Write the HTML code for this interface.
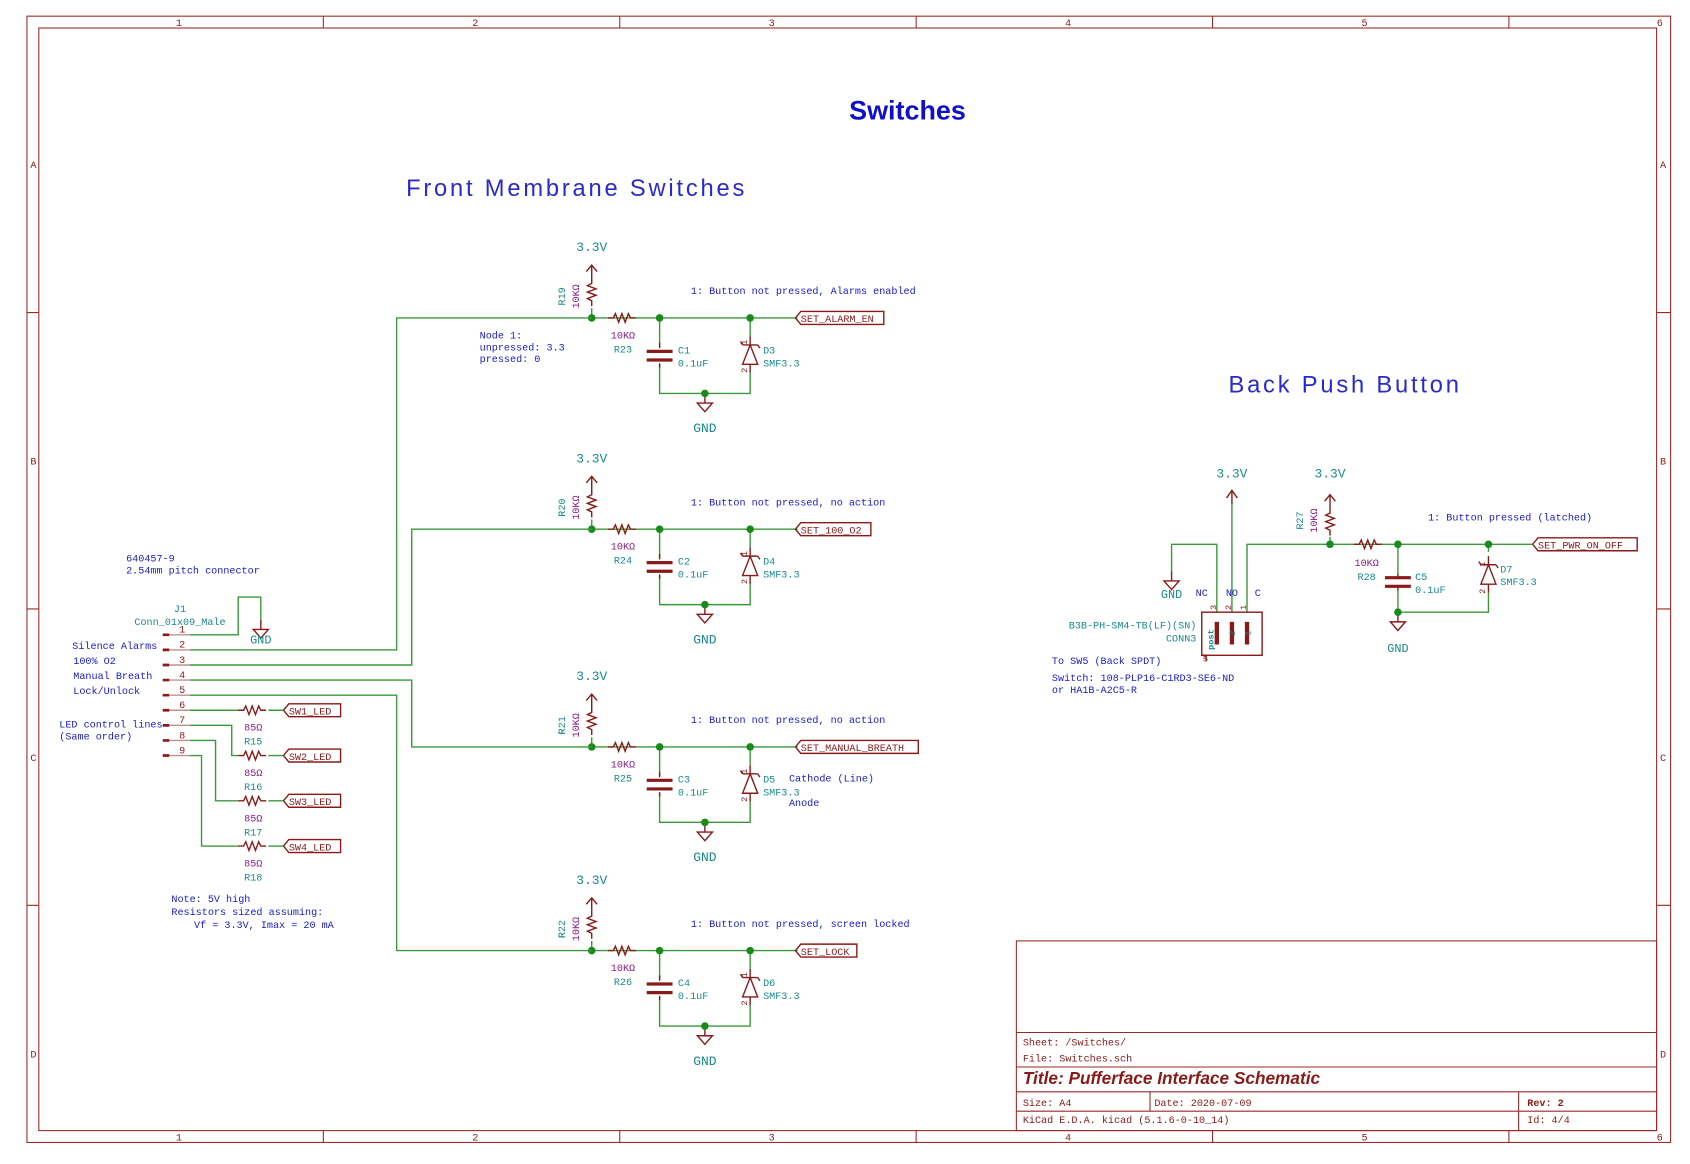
<!DOCTYPE html>
<html><head><meta charset="utf-8"><style>
html,body{margin:0;padding:0;background:#fff;}
svg{display:block;}
text{font-family:"Liberation Mono",monospace;font-size:9.4px;}
.b{fill:#1a1acc}.t{fill:#1a8a8a}.p{fill:#8a1a8a}.r{fill:#8a1a1a}
.w{stroke:#3a9a3a;stroke-width:1.3;fill:none}
.c{stroke:#8a1a1a;stroke-width:1.3;fill:none}
.brd{stroke:#9a2a2a;stroke-width:1;fill:none}
</style></head><body>
<svg width="1690" height="1164" viewBox="0 0 1568 1080" preserveAspectRatio="none" xmlns="http://www.w3.org/2000/svg">
<defs>
<g id="gnd"><path class="c" d="M0,0 v9 M-7,9 h14 l-7,8 z"/></g>
<g id="pwr"><path class="c" d="M0,0 v-12 M-5,-6 l5,-6 l5,6"/></g>
<g id="rh"><path class="c" d="M-14,0 h5 l2,-4 l3,8 l3,-8 l3,8 l3,-8 l2,4 h5"/></g>
<g id="rv"><path class="c" d="M0,-14 v5 l-4,2 l8,3 l-8,3 l8,3 l-8,3 l4,2 v5"/></g>
<g id="diode"><path class="c" d="M0,-16 v8 M-7,10 h14 l-7,-18 z M-7,-8 h14 M-7,-8 l-2,-3 M7,-8 l2,3 M0,10 v8"/></g>
<g id="block">
  <path class="w" d="M549,295 H740 M612,295 V322 M612,338 V365 H696 V346 M696,295 V312"/>
  <use href="#pwr" x="549" y="258"/>
  <use href="#rv" x="549" y="272"/>
  <path class="w" d="M549,286 V295"/>
  <use href="#rh" x="578" y="295"/>
  <path class="c" d="M600,326 h24 M600,334 h24" style="stroke-width:3"/>
  <path class="c" d="M612,318 v5 M612,337 v4"/>
  <use href="#diode" x="696" y="328"/>
  <use href="#gnd" x="654" y="365"/>
  <circle cx="549" cy="295" r="3.5" fill="#1a8a1a"/>
  <circle cx="612" cy="295" r="3.5" fill="#1a8a1a"/>
  <circle cx="696" cy="295" r="3.5" fill="#1a8a1a"/>
  <circle cx="654" cy="365" r="3.5" fill="#1a8a1a"/>
  <text x="549" y="233" class="t" text-anchor="middle" style="font-size:12px">3.3V</text>
  <text x="654" y="401" class="t" text-anchor="middle" style="font-size:12px">GND</text>
  <text x="578" y="314" class="p" text-anchor="middle">10KΩ</text>
  <text x="578" y="327" class="t" text-anchor="middle">R23</text>
  <text x="629" y="328" class="t">C1</text>
  <text x="629" y="340" class="t">0.1uF</text>
  <text x="708" y="328" class="t">D3</text>
  <text x="708" y="340" class="t">SMF3.3</text>
  <text x="0" y="0" class="r" transform="translate(693,320) rotate(-90)" style="font-size:8px">1</text>
  <text x="0" y="0" class="r" transform="translate(693,346) rotate(-90)" style="font-size:8px">2</text>
  <text x="0" y="0" class="t" text-anchor="middle" transform="translate(524,275) rotate(-90)">R19</text>
  <text x="0" y="0" class="p" text-anchor="middle" transform="translate(537,275) rotate(-90)">10KΩ</text>
</g>
</defs>

<!-- frame -->
<rect x="25" y="15" width="1525" height="1045" class="brd"/>
<rect x="36" y="26" width="1501" height="1023" class="brd"/>
<path class="brd" d="M300,15 v11 M575,15 v11 M850,15 v11 M1125,15 v11 M1400,15 v11 M300,1049 v11 M575,1049 v11 M850,1049 v11 M1125,1049 v11 M1400,1049 v11 M25,290 h11 M25,565 h11 M25,840 h11 M1537,290 h13 M1537,565 h13 M1537,840 h13"/>
<g class="r" style="font-size:10px" text-anchor="middle">
<text x="166" y="24">1</text><text x="441" y="24">2</text><text x="716" y="24">3</text><text x="991" y="24">4</text><text x="1266" y="24">5</text><text x="1540" y="24">6</text>
<text x="166" y="1058">1</text><text x="441" y="1058">2</text><text x="716" y="1058">3</text><text x="991" y="1058">4</text><text x="1266" y="1058">5</text><text x="1540" y="1058">6</text>
<text x="31" y="156">A</text><text x="31" y="431">B</text><text x="31" y="706">C</text><text x="31" y="981">D</text>
<text x="1543" y="156">A</text><text x="1543" y="431">B</text><text x="1543" y="706">C</text><text x="1543" y="981">D</text>
</g>

<!-- titles -->
<text x="842" y="111" text-anchor="middle" style="font-family:'Liberation Sans',sans-serif;font-size:25px;font-weight:bold;fill:#1010cc">Switches</text>
<text x="535" y="182" text-anchor="middle" style="font-family:'Liberation Sans',sans-serif;font-size:22px;letter-spacing:2.6px;fill:#2a2acc">Front Membrane Switches</text>
<text x="1248" y="364" text-anchor="middle" style="font-family:'Liberation Sans',sans-serif;font-size:22px;letter-spacing:2.6px;fill:#2a2acc">Back Push Button</text>

<!-- blocks -->
<use href="#block"/>
<use href="#block" y="196"/>
<use href="#block" y="398"/>
<use href="#block" y="587"/>
<g>
<rect x="570" y="318" width="20" height="11" fill="#fff" transform="translate(0,196)"/>
<rect x="570" y="318" width="20" height="11" fill="#fff" transform="translate(0,398)"/>
<rect x="570" y="318" width="20" height="11" fill="#fff" transform="translate(0,587)"/>
<rect x="628" y="319" width="14" height="11" fill="#fff" transform="translate(0,196)"/>
<rect x="628" y="319" width="14" height="11" fill="#fff" transform="translate(0,398)"/>
<rect x="628" y="319" width="14" height="11" fill="#fff" transform="translate(0,587)"/>
<rect x="707" y="319" width="14" height="11" fill="#fff" transform="translate(0,196)"/>
<rect x="707" y="319" width="14" height="11" fill="#fff" transform="translate(0,398)"/>
<rect x="707" y="319" width="14" height="11" fill="#fff" transform="translate(0,587)"/>
<rect x="516" y="259" width="11" height="20" fill="#fff" transform="translate(0,196)"/>
<rect x="516" y="259" width="11" height="20" fill="#fff" transform="translate(0,398)"/>
<rect x="516" y="259" width="11" height="20" fill="#fff" transform="translate(0,587)"/>
</g>
<text x="578" y="523" class="t" text-anchor="middle">R24</text>
<text x="578" y="725" class="t" text-anchor="middle">R25</text>
<text x="578" y="914" class="t" text-anchor="middle">R26</text>
<text x="629" y="524" class="t">C2</text><text x="629" y="726" class="t">C3</text><text x="629" y="915" class="t">C4</text>
<text x="708" y="524" class="t">D4</text><text x="708" y="726" class="t">D5</text><text x="708" y="915" class="t">D6</text>
<text class="t" text-anchor="middle" transform="translate(524,471) rotate(-90)">R20</text>
<text class="t" text-anchor="middle" transform="translate(524,673) rotate(-90)">R21</text>
<text class="t" text-anchor="middle" transform="translate(524,862) rotate(-90)">R22</text>

<g class="b">
<text x="641" y="273">1: Button not pressed, Alarms enabled</text>
<text x="641" y="469">1: Button not pressed, no action</text>
<text x="641" y="671">1: Button not pressed, no action</text>
<text x="641" y="860">1: Button not pressed, screen locked</text>
<text x="445" y="314">Node 1:</text>
<text x="445" y="325">unpressed: 3.3</text>
<text x="445" y="336">pressed: 0</text>
<text x="732" y="725">Cathode (Line)</text>
<text x="732" y="748">Anode</text>
</g>

<!-- global labels -->
<g class="c">
<path d="M738,295 l5,-6 h77 v12 h-77 z"/>
<path d="M738,491 l5,-6 h65 v12 h-65 z"/>
<path d="M738,693 l5,-6 h109 v12 h-109 z"/>
<path d="M738,882 l5,-6 h52 v12 h-52 z"/>
<path d="M1422,505 l5,-6 h92 v12 h-92 z"/>
<path d="M263,659 l5,-6 h48 v12 h-48 z"/>
<path d="M263,701 l5,-6 h48 v12 h-48 z"/>
<path d="M263,743 l5,-6 h48 v12 h-48 z"/>
<path d="M263,785 l5,-6 h48 v12 h-48 z"/>
</g>
<g class="r">
<text x="743" y="299">SET_ALARM_EN</text>
<text x="743" y="495">SET_100_O2</text>
<text x="743" y="697">SET_MANUAL_BREATH</text>
<text x="743" y="886">SET_LOCK</text>
<text x="1427" y="509">SET_PWR_ON_OFF</text>
<text x="268" y="663">SW1_LED</text>
<text x="268" y="705">SW2_LED</text>
<text x="268" y="747">SW3_LED</text>
<text x="268" y="789">SW4_LED</text>
</g>

<!-- left wires -->
<path class="w" d="M549,295 H368 V603 H176 M549,491 H382 V617 H176 M176,631 H382 V693 H549 M176,645 H368 V882 H549"/>
<path class="w" d="M176,589 H221 V554 H242 V575"/>
<use href="#gnd" x="242" y="575"/>
<path class="w" d="M176,659 H221 M249,659 H263 M176,673 H215 V701 H221 M249,701 H263 M176,687 H200 V743 H221 M249,743 H263 M176,701 H187 V785 H221 M249,785 H263"/>
<use href="#rh" x="235" y="659"/><use href="#rh" x="235" y="701"/><use href="#rh" x="235" y="743"/><use href="#rh" x="235" y="785"/>
<path class="c" d="M151,589 h25 M151,603 h25 M151,617 h25 M151,631 h25 M151,645 h25 M151,659 h25 M151,673 h25 M151,687 h25 M151,701 h25" style="stroke:#c09090"/>
<path class="c" d="M151,589 h6 M151,603 h6 M151,617 h6 M151,631 h6 M151,645 h6 M151,659 h6 M151,673 h6 M151,687 h6 M151,701 h6" style="stroke-width:2.5"/>
<g class="r" text-anchor="middle" style="font-size:10px">
<text x="169" y="587">1</text><text x="169" y="601">2</text><text x="169" y="615">3</text><text x="169" y="629">4</text><text x="169" y="643">5</text><text x="169" y="657">6</text><text x="169" y="671">7</text><text x="169" y="685">8</text><text x="169" y="699">9</text>
</g>
<text x="242" y="597" class="t" text-anchor="middle" style="font-size:11px">GND</text>
<text x="167" y="568" class="t" text-anchor="middle">J1</text>
<text x="167" y="580" class="t" text-anchor="middle">Conn_01x09_Male</text>
<g class="b">
<text x="117" y="521">640457-9</text>
<text x="117" y="532">2.54mm pitch connector</text>
<text x="146" y="602" text-anchor="end">Silence Alarms</text>
<text x="68" y="616">100% O2</text>
<text x="68" y="630">Manual Breath</text>
<text x="68" y="644">Lock/Unlock</text>
<text x="55" y="675">LED control lines</text>
<text x="55" y="686">(Same order)</text>
<text x="159" y="837">Note: 5V high</text>
<text x="159" y="849">Resistors sized assuming:</text>
<text x="180" y="861">Vf = 3.3V, Imax = 20 mA</text>
</g>
<g text-anchor="middle">
<text x="235" y="678" class="p">85Ω</text><text x="235" y="691" class="t">R15</text>
<text x="235" y="720" class="p">85Ω</text><text x="235" y="733" class="t">R16</text>
<text x="235" y="762" class="p">85Ω</text><text x="235" y="775" class="t">R17</text>
<text x="235" y="804" class="p">85Ω</text><text x="235" y="817" class="t">R18</text>
</g>

<!-- back push button -->
<path class="w" d="M1129,568 V505 H1087 V530 M1143,568 V468 M1157,568 V505 H1422 M1234,505 V498 M1297,505 V532 M1297,548 V568 H1381 V550 M1381,505 V512"/>
<path class="c" d="M1143,468 V455 M1138,462 l5,-7 l5,7"/>
<use href="#gnd" x="1087" y="530"/>
<use href="#pwr" x="1234" y="471"/>
<use href="#rv" x="1234" y="485"/>
<use href="#rh" x="1270" y="505"/>
<path class="c" d="M1285,536 h24 M1285,544 h24" style="stroke-width:3"/>
<path class="c" d="M1297,532 v4 M1297,544 v4"/>
<use href="#diode" x="1381" y="532"/>
<use href="#gnd" x="1297" y="568"/>
<circle cx="1234" cy="505" r="3.5" fill="#1a8a1a"/>
<circle cx="1297" cy="505" r="3.5" fill="#1a8a1a"/>
<circle cx="1381" cy="505" r="3.5" fill="#1a8a1a"/>
<circle cx="1297" cy="568" r="3.5" fill="#1a8a1a"/>
<rect x="1115" y="568" width="56" height="40" class="c"/>
<path class="c" d="M1129,577 v21 M1143,577 v21 M1157,577 v21" style="stroke-width:4"/>
<path class="c" d="M1115,608 h4 v5" />
<text class="t" transform="translate(1126,603) rotate(-90)" style="font-size:8px;font-weight:bold">post</text>
<text class="r" transform="translate(1128,566) rotate(-90)" style="font-size:8px">3</text>
<text class="r" transform="translate(1142,566) rotate(-90)" style="font-size:8px">2</text>
<text class="r" transform="translate(1156,566) rotate(-90)" style="font-size:8px">1</text>
<text class="t" transform="translate(1146,590) rotate(-90)" style="font-size:8px">2</text>
<text class="t" transform="translate(1160,590) rotate(-90)" style="font-size:8px">1</text>
<text x="1116" y="614" class="r" style="font-size:8px">5</text>
<text x="1143" y="443" class="t" text-anchor="middle" style="font-size:12px">3.3V</text>
<text x="1234" y="443" class="t" text-anchor="middle" style="font-size:12px">3.3V</text>
<text x="1087" y="555" class="t" text-anchor="middle" style="font-size:11px">GND</text>
<text x="1297" y="605" class="t" text-anchor="middle" style="font-size:11px">GND</text>
<g class="b"><text x="1115" y="553" text-anchor="middle">NC</text><text x="1143" y="553" text-anchor="middle">NO</text><text x="1167" y="553" text-anchor="middle">C</text>
<text x="1325" y="483">1: Button pressed (latched)</text>
<text x="976" y="616">To SW5 (Back SPDT)</text>
<text x="976" y="632">Switch: 108-PLP16-C1RD3-SE6-ND</text>
<text x="976" y="643">or HA1B-A2C5-R</text></g>
<text x="1110" y="583" class="t" text-anchor="end">B3B-PH-SM4-TB(LF)(SN)</text>
<text x="1110" y="595" class="t" text-anchor="end">CONN3</text>
<text class="t" text-anchor="middle" transform="translate(1209,483) rotate(-90)">R27</text>
<text class="p" text-anchor="middle" transform="translate(1222,483) rotate(-90)">10KΩ</text>
<text x="1268" y="525" class="p" text-anchor="middle">10KΩ</text>
<text x="1268" y="538" class="t" text-anchor="middle">R28</text>
<text x="1313" y="538" class="t">C5</text><text x="1313" y="550" class="t">0.1uF</text>
<text x="1392" y="531" class="t">D7</text><text x="1392" y="543" class="t">SMF3.3</text>
<text class="r" transform="translate(1378,526) rotate(-90)" style="font-size:8px">1</text>
<text class="r" transform="translate(1378,551) rotate(-90)" style="font-size:8px">2</text>

<!-- title block -->
<rect x="943" y="873" width="594" height="176" class="brd"/>
<path class="brd" d="M943,958 H1537 M943,990 H1537 M943,1013 H1537 M943,1031 H1537 M1067,1013 V1031 M1409,1013 V1049"/>
<g class="r" style="font-size:11px">
<text x="949" y="970">Sheet: /Switches/</text>
<text x="949" y="985">File: Switches.sch</text>
<text x="949" y="1006" style="font-family:'Liberation Sans',sans-serif;font-size:16px;font-weight:bold;font-style:italic">Title: Pufferface Interface Schematic</text>
<text x="949" y="1026">Size: A4</text>
<text x="1071" y="1026">Date: 2020-07-09</text>
<text x="1417" y="1026" style="font-weight:bold">Rev: 2</text>
<text x="949" y="1042">KiCad E.D.A.  kicad (5.1.6-0-10_14)</text>
<text x="1417" y="1042">Id: 4/4</text>
</g>
</svg>
</body></html>
